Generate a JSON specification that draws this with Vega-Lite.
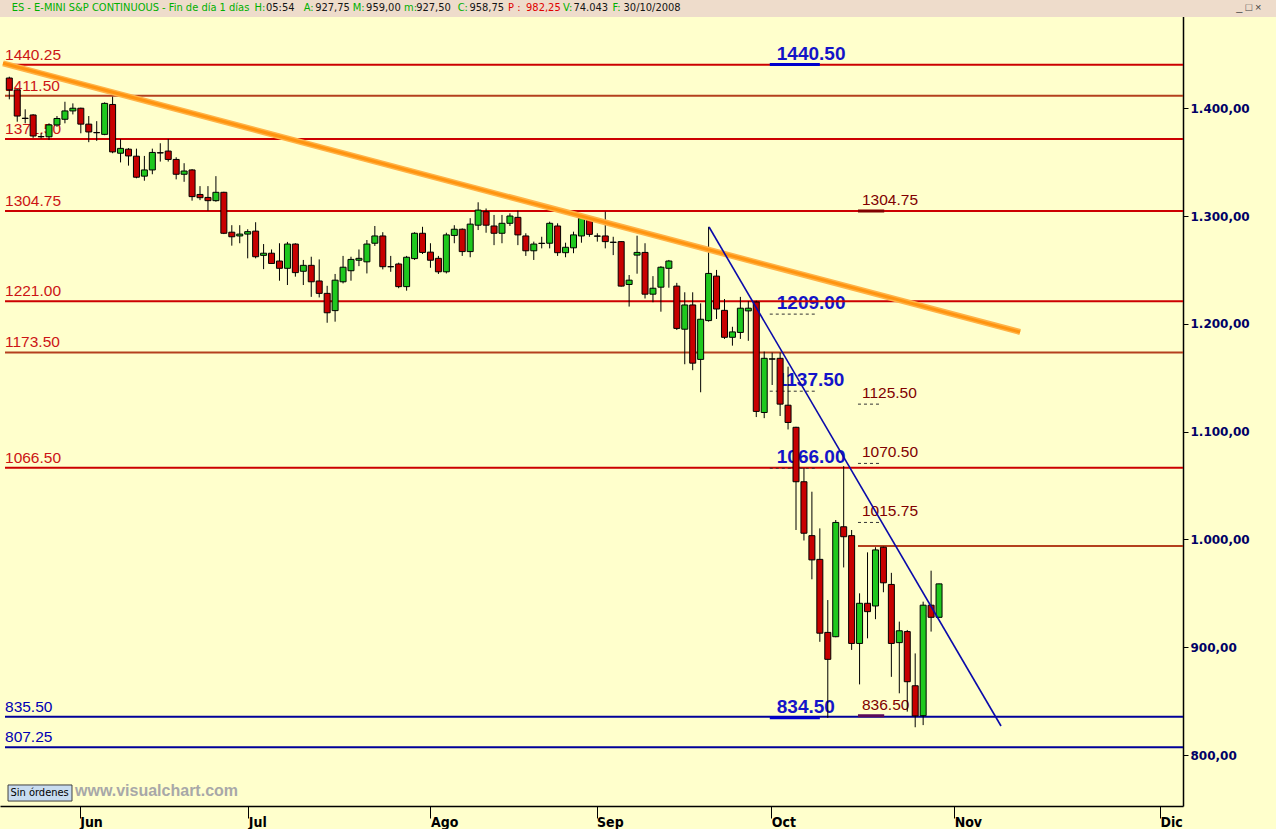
{
"$schema": "https://vega.github.io/schema/vega-lite/v6.json",
"width": 1183, "height": 806,
"autosize": {"type": "none"},
"padding": {"left": 0, "top": 0, "right": 93, "bottom": 23},
"background": "#FFFFCC",
"config": {"view": {"stroke": null, "fill": "#FFFFCC"}, "font": "Liberation Sans"},
"resolve": {"axis": {"x": "independent", "y": "independent"}},
"datasets": {
"candles": [
{"i":0,"o":1428,"h":1429.25,"l":1408.25,"c":1417},
{"i":1,"o":1417,"h":1417.5,"l":1387.5,"c":1392.75},
{"i":2,"o":1390.75,"h":1399,"l":1386,"c":1390.5},
{"i":3,"o":1393.75,"h":1394.5,"l":1372.5,"c":1374.25},
{"i":4,"o":1373.5,"h":1376.75,"l":1372,"c":1373.75},
{"i":5,"o":1373.5,"h":1386,"l":1370.5,"c":1384.5},
{"i":6,"o":1384.5,"h":1392.75,"l":1382.75,"c":1390.5},
{"i":7,"o":1389.75,"h":1406,"l":1386,"c":1397.5},
{"i":8,"o":1397.5,"h":1404.5,"l":1394.25,"c":1400},
{"i":9,"o":1400,"h":1400.5,"l":1376.75,"c":1385.25},
{"i":10,"o":1385.25,"h":1392.75,"l":1368.5,"c":1378},
{"i":11,"o":1377.25,"h":1388,"l":1369.75,"c":1377.5},
{"i":12,"o":1375.75,"h":1405.5,"l":1375,"c":1404.5},
{"i":13,"o":1403.5,"h":1410.75,"l":1358.25,"c":1359.5},
{"i":14,"o":1358.25,"h":1371.25,"l":1349.75,"c":1362.75},
{"i":15,"o":1362,"h":1363,"l":1346.75,"c":1355.75},
{"i":16,"o":1355.5,"h":1362.5,"l":1335,"c":1336},
{"i":17,"o":1337,"h":1355.75,"l":1332.75,"c":1342.75},
{"i":18,"o":1342.75,"h":1362.5,"l":1338.75,"c":1359},
{"i":19,"o":1358.75,"h":1367.5,"l":1350.5,"c":1358.5},
{"i":20,"o":1360.25,"h":1371.5,"l":1350.5,"c":1352.5},
{"i":21,"o":1352.5,"h":1354.5,"l":1334,"c":1338.75},
{"i":22,"o":1338.75,"h":1349,"l":1331.75,"c":1341.75},
{"i":23,"o":1342.75,"h":1343.5,"l":1314.25,"c":1318},
{"i":24,"o":1320,"h":1327.75,"l":1314.75,"c":1317},
{"i":25,"o":1317.25,"h":1327.75,"l":1305,"c":1314.25},
{"i":26,"o":1314.25,"h":1337,"l":1313.25,"c":1322},
{"i":27,"o":1322,"h":1322.5,"l":1283.25,"c":1284},
{"i":28,"o":1285,"h":1291.5,"l":1272.5,"c":1280.75},
{"i":29,"o":1281.5,"h":1291.5,"l":1274.75,"c":1283.25},
{"i":30,"o":1283.25,"h":1287.75,"l":1260.75,"c":1285.5},
{"i":31,"o":1286,"h":1294.25,"l":1260.75,"c":1262.25},
{"i":32,"o":1263.5,"h":1274,"l":1250.75,"c":1265.5},
{"i":33,"o":1265.5,"h":1269,"l":1255.5,"c":1256},
{"i":34,"o":1258.25,"h":1274.75,"l":1240,"c":1251.5},
{"i":35,"o":1251.5,"h":1276,"l":1236,"c":1274},
{"i":36,"o":1274,"h":1274.75,"l":1243.75,"c":1247.5},
{"i":37,"o":1248.75,"h":1259.25,"l":1236,"c":1254.25},
{"i":38,"o":1254.25,"h":1262.25,"l":1225,"c":1239},
{"i":39,"o":1239.75,"h":1259.75,"l":1224.5,"c":1228.25},
{"i":40,"o":1228.25,"h":1235.25,"l":1201,"c":1210.25},
{"i":41,"o":1212.25,"h":1246.25,"l":1202,"c":1240.5},
{"i":42,"o":1239,"h":1263,"l":1237.5,"c":1252.5},
{"i":43,"o":1249.25,"h":1262.25,"l":1240,"c":1259.75},
{"i":44,"o":1259,"h":1269,"l":1253.5,"c":1260.75},
{"i":45,"o":1257.5,"h":1277.75,"l":1246.75,"c":1274},
{"i":46,"o":1274.75,"h":1290.75,"l":1272.25,"c":1281.5},
{"i":47,"o":1281.5,"h":1285,"l":1250.5,"c":1253},
{"i":48,"o":1253,"h":1263,"l":1248.25,"c":1253},
{"i":49,"o":1255.5,"h":1256.75,"l":1233,"c":1234.5},
{"i":50,"o":1234.5,"h":1263,"l":1230.75,"c":1261.75},
{"i":51,"o":1260.5,"h":1285,"l":1259.25,"c":1284},
{"i":52,"o":1284,"h":1290,"l":1264.75,"c":1266.25},
{"i":53,"o":1266.5,"h":1274.75,"l":1252,"c":1259},
{"i":54,"o":1260.75,"h":1263,"l":1246.25,"c":1248.25},
{"i":55,"o":1248.25,"h":1284.5,"l":1246.75,"c":1282.5},
{"i":56,"o":1282,"h":1291.5,"l":1274.75,"c":1287.75},
{"i":57,"o":1287.75,"h":1288.5,"l":1263,"c":1267},
{"i":58,"o":1267,"h":1298,"l":1261.75,"c":1292.5},
{"i":59,"o":1291.5,"h":1312.75,"l":1287,"c":1305.5},
{"i":60,"o":1304,"h":1307,"l":1284.5,"c":1291.5},
{"i":61,"o":1290.75,"h":1301,"l":1273,"c":1284},
{"i":62,"o":1284,"h":1301,"l":1274.75,"c":1293.25},
{"i":63,"o":1293.25,"h":1302.5,"l":1290.75,"c":1300},
{"i":64,"o":1298.75,"h":1305,"l":1273,"c":1282.5},
{"i":65,"o":1281.5,"h":1284,"l":1263,"c":1267.75},
{"i":66,"o":1267.75,"h":1276.25,"l":1259.25,"c":1274},
{"i":67,"o":1274.75,"h":1280.75,"l":1270,"c":1274.5},
{"i":68,"o":1274.75,"h":1294.75,"l":1270,"c":1293.25},
{"i":69,"o":1290.75,"h":1293.25,"l":1263,"c":1266},
{"i":70,"o":1266,"h":1275.25,"l":1261.75,"c":1271},
{"i":71,"o":1270.5,"h":1285.5,"l":1265.5,"c":1282.5},
{"i":72,"o":1281.5,"h":1301,"l":1275.25,"c":1298},
{"i":73,"o":1297,"h":1299.25,"l":1280.75,"c":1283},
{"i":74,"o":1281.5,"h":1284,"l":1276.25,"c":1281.25},
{"i":75,"o":1281.5,"h":1304,"l":1270,"c":1276.25},
{"i":76,"o":1275.5,"h":1280.75,"l":1263.75,"c":1275.75},
{"i":77,"o":1276.25,"h":1276.75,"l":1234.5,"c":1235},
{"i":78,"o":1236.5,"h":1245.25,"l":1216,"c":1240.5},
{"i":79,"o":1263.75,"h":1281.75,"l":1246.5,"c":1266.25},
{"i":80,"o":1266.25,"h":1274.75,"l":1223.5,"c":1227.5},
{"i":81,"o":1227.5,"h":1244.25,"l":1220,"c":1233},
{"i":82,"o":1234,"h":1253.5,"l":1211.25,"c":1252.5},
{"i":83,"o":1251.5,"h":1259.25,"l":1233.5,"c":1258.25},
{"i":84,"o":1235,"h":1238,"l":1194.25,"c":1195.75},
{"i":85,"o":1195,"h":1229.25,"l":1162.5,"c":1217.5},
{"i":86,"o":1217.5,"h":1229.25,"l":1157,"c":1163.5},
{"i":87,"o":1167,"h":1219,"l":1136.5,"c":1204.25},
{"i":88,"o":1203,"h":1290,"l":1202,"c":1246.75},
{"i":89,"o":1244.25,"h":1250,"l":1204.5,"c":1213.75},
{"i":90,"o":1212.5,"h":1223,"l":1186,"c":1187.5},
{"i":91,"o":1187.5,"h":1197.25,"l":1179.75,"c":1192.5},
{"i":92,"o":1192,"h":1225,"l":1186,"c":1214.5},
{"i":93,"o":1212,"h":1221,"l":1184.25,"c":1214.5},
{"i":94,"o":1220.25,"h":1221.5,"l":1113.5,"c":1118.75},
{"i":95,"o":1117.75,"h":1174.25,"l":1112.5,"c":1168},
{"i":96,"o":1167.25,"h":1173.25,"l":1143.25,"c":1167.5},
{"i":97,"o":1168,"h":1173.25,"l":1114.5,"c":1125.5},
{"i":98,"o":1124.5,"h":1160.25,"l":1102,"c":1108.5},
{"i":99,"o":1104,"h":1104.5,"l":1008.75,"c":1053.5},
{"i":100,"o":1053.5,"h":1066.25,"l":999,"c":1005.75},
{"i":101,"o":1003.5,"h":1044.25,"l":963,"c":981},
{"i":102,"o":981.5,"h":1010.25,"l":905,"c":913},
{"i":103,"o":913.75,"h":943.75,"l":834.5,"c":888.75},
{"i":104,"o":909.75,"h":1018,"l":909.25,"c":1015.75},
{"i":105,"o":1011.75,"h":1068,"l":974,"c":1002.5},
{"i":106,"o":1003.5,"h":1008.75,"l":897.5,"c":903.5},
{"i":107,"o":903.5,"h":950,"l":865.5,"c":940.75},
{"i":108,"o":940.75,"h":988,"l":908.25,"c":933},
{"i":109,"o":938.25,"h":992.75,"l":926,"c":990.25},
{"i":110,"o":992.75,"h":993.25,"l":951,"c":959.75},
{"i":111,"o":958.25,"h":969,"l":872.5,"c":903.5},
{"i":112,"o":904.25,"h":923.75,"l":857.25,"c":915.25},
{"i":113,"o":914.5,"h":916,"l":840.25,"c":868},
{"i":114,"o":864.25,"h":894.25,"l":825.75,"c":836.25},
{"i":115,"o":836.5,"h":942.25,"l":827.75,"c":939},
{"i":116,"o":939,"h":971,"l":914.5,"c":927.75},
{"i":117,"o":927.75,"h":959,"l":927.5,"c":958.75}
],
"levels": [
{"p":1440.25,"t":"r","lbl":"1440.25","desde":-0.54},
{"p":1411.5,"t":"b","lbl":"1411.50","desde":-0.54},
{"p":1371.5,"t":"r","lbl":"1371.50","desde":-0.54},
{"p":1304.75,"t":"r","lbl":"1304.75","desde":-0.54},
{"p":1221,"t":"r","lbl":"1221.00","desde":-0.54},
{"p":1173.5,"t":"b","lbl":"1173.50","desde":-0.54},
{"p":1066.5,"t":"r","lbl":"1066.50","desde":-0.54},
{"p":994,"t":"b","lbl":"","desde":106.8},
{"p":835.5,"t":"s","lbl":"835.50","desde":-0.54},
{"p":807.25,"t":"s","lbl":"807.25","desde":-0.54}
],
"notes": [
{"p":1440.5,"lbl":"1440.50","g":"A","k":"azul","a":95.7,"b":102.0},
{"p":1209,"lbl":"1209.00","g":"A","k":"punteado","a":95.7,"b":101.4},
{"p":1137.5,"lbl":"1137.50","g":"A","k":"punteado","a":95.7,"b":101.4},
{"p":1066,"lbl":"1066.00","g":"A","k":"punteado","a":95.7,"b":101.4},
{"p":834.5,"lbl":"834.50","g":"A","k":"azul","a":95.7,"b":102.0},
{"p":1304.75,"lbl":"1304.75","g":"M","k":"granate","a":106.8,"b":110.1},
{"p":1125.5,"lbl":"1125.50","g":"M","k":"punteado","a":106.8,"b":109.6},
{"p":1070.5,"lbl":"1070.50","g":"M","k":"punteado","a":106.8,"b":109.6},
{"p":1015.75,"lbl":"1015.75","g":"M","k":"punteado","a":106.8,"b":109.6},
{"p":836.5,"lbl":"836.50","g":"M","k":"morado","a":106.8,"b":110.1}
],
"trends": [
{"n":"naranja","xa":-0.79,"ya":1441.7,"xb":127.2,"yb":1192.4},
{"n":"azul","xa":88.06,"ya":1289.8,"xb":124.8,"yb":826.9}
],
"header": [
{"k":"ES - E-MINI S&P CONTINUOUS - Fin de día 1 días","ki":0.3,"v":"","vi":0},
{"k":"H:","ki":30.86,"v":"05:54","vi":32.3},
{"k":"A:","ki":37.04,"v":"927,75","vi":38.5},
{"k":"M:","ki":43.22,"v":"959,00","vi":44.9},
{"k":"m:","ki":49.67,"v":"927,50","vi":51.2},
{"k":"C:","ki":56.42,"v":"958,75","vi":57.9},
{"k":"P :","ki":62.76,"v":"982,25","vi":65.03},
{"k":"V:","ki":69.68,"v":"74.043","vi":71.0},
{"k":"F:","ki":75.91,"v":"30/10/2008","vi":77.3}
]
},
"layer": [
{
"data": {"values": [{}]},
"mark": {"type": "rect", "color": "#EEDCCB"},
"encoding": {
"x": {"datum": -2, "type": "quantitative", "axis": null},
"x2": {"datum": 165},
"y": {"datum": 1484.6, "type": "quantitative", "axis": null},
"y2": {"datum": 1512}
}
},
{
"data": {"name": "header"},
"mark": {"type": "text", "align": "left", "baseline": "middle", "font": "Liberation Sans Narrow, DejaVu Sans Condensed, Liberation Sans", "fontSize": 11},
"encoding": {
"x": {"field": "ki", "type": "quantitative", "axis": null},
"y": {"datum": 1493, "type": "quantitative", "axis": null},
"text": {"field": "k"},
"color": {"condition": {"test": "datum.k == 'P :'", "value": "#E00000"}, "value": "#00B000"}
}
},
{
"data": {"name": "header"},
"mark": {"type": "text", "align": "left", "baseline": "middle", "font": "Liberation Sans Narrow, DejaVu Sans Condensed, Liberation Sans", "fontSize": 11},
"encoding": {
"x": {"field": "vi", "type": "quantitative", "axis": null},
"y": {"datum": 1493, "type": "quantitative", "axis": null},
"text": {"field": "v"},
"color": {"condition": {"test": "datum.k == 'P :'", "value": "#E00000"}, "value": "#151515"}
}
},
{
"data": {"values": [{"s": "_ □ ×"}]},
"mark": {"type": "text", "align": "left", "baseline": "middle", "fontSize": 11, "color": "#444444"},
"encoding": {
"x": {"datum": 154.4, "type": "quantitative", "axis": null},
"y": {"datum": 1493, "type": "quantitative", "axis": null},
"text": {"field": "s"}
}
},
{
"data": {"name": "levels"},
"transform": [{"filter": "datum.lbl != ''"}],
"mark": {"type": "text", "align": "left", "baseline": "alphabetic", "dy": -5, "fontSize": 15.5},
"encoding": {
"x": {"datum": -0.54, "type": "quantitative", "axis": null},
"y": {"field": "p", "type": "quantitative", "axis": null},
"text": {"field": "lbl"},
"color": {"condition": {"test": "datum.t == 's'", "value": "#0000B4"}, "value": "#CC1414"}
}
},
{
"data": {"name": "notes"},
"transform": [{"filter": "datum.g == 'A'"}],
"mark": {"type": "text", "align": "left", "baseline": "alphabetic", "dx": 7, "dy": -5, "fontSize": 19, "fontWeight": "bold", "color": "#1414C8"},
"encoding": {
"x": {"field": "a", "type": "quantitative", "axis": null},
"y": {"field": "p", "type": "quantitative", "axis": null},
"text": {"field": "lbl"}
}
},
{
"data": {"name": "notes"},
"transform": [{"filter": "datum.g == 'M'"}],
"mark": {"type": "text", "align": "left", "baseline": "alphabetic", "dx": 4, "dy": -6, "fontSize": 15.5, "color": "#800000"},
"encoding": {
"x": {"field": "a", "type": "quantitative", "axis": null},
"y": {"field": "p", "type": "quantitative", "axis": null},
"text": {"field": "lbl"}
}
},
{
"data": {"name": "levels"},
"mark": {"type": "rule", "strokeWidth": 2},
"encoding": {
"x": {"field": "desde", "type": "quantitative", "axis": null},
"x2": {"datum": 147.7},
"y": {"field": "p", "type": "quantitative", "axis": null},
"color": {"condition": [{"test": "datum.t == 's'", "value": "#00009A"}, {"test": "datum.t == 'b'", "value": "#B4401E"}], "value": "#CC0000"}
}
},
{
"data": {"name": "notes"},
"mark": {"type": "rule"},
"encoding": {
"x": {"field": "a", "type": "quantitative", "axis": null},
"x2": {"field": "b"},
"y": {"field": "p", "type": "quantitative", "axis": null},
"color": {"condition": [{"test": "datum.k == 'azul'", "value": "#0000CC"}, {"test": "datum.k == 'granate'", "value": "#800000"}, {"test": "datum.k == 'morado'", "value": "#5A0A5A"}], "value": "#333333"},
"strokeWidth": {"condition": {"test": "datum.k == 'punteado'", "value": 1}, "value": 3},
"strokeDash": {"condition": {"test": "datum.k == 'punteado'", "value": [3, 3]}, "value": [1, 0]}
}
},
{
"data": {"name": "candles"},
"mark": {"type": "rule", "color": "#000000", "strokeWidth": 1},
"encoding": {
"x": {"field": "i", "type": "quantitative",
"scale": {"domain": [-1.17, 147.7], "nice": false, "zero": false, "padding": 0},
"axis": {"values": [8.86, 30.07, 53.0, 73.9, 95.9, 118.9, 144.8],
"labelExpr": "datum.value < 20 ? 'Jun' : datum.value < 40 ? 'Jul' : datum.value < 60 ? 'Ago' : datum.value < 85 ? 'Sep' : datum.value < 105 ? 'Oct' : datum.value < 130 ? 'Nov' : 'Dic'",
"title": null, "grid": false, "tickSize": 12, "tickColor": "#000000", "domainColor": "#000000", "domainWidth": 1.5,
"labelAlign": "left", "labelDx": 2, "labelPadding": -3, "labelBaseline": "top",
"labelFont": "Liberation Sans Narrow, DejaVu Sans Condensed, Liberation Sans", "labelFontSize": 14, "labelFontWeight": "bold", "labelColor": "#000000",
"labelFlush": false, "labelOverlap": false}},
"y": {"field": "l", "type": "quantitative",
"scale": {"domain": [752.7, 1500.4], "nice": false, "zero": false, "padding": 0},
"axis": {"orient": "right", "values": [800, 900, 1000, 1100, 1200, 1300, 1400],
"labelExpr": "replace(replace(replace(format(datum.value, ',.2f'), ',', '_'), '.', ','), '_', '.')",
"title": null, "grid": false, "tickSize": 5, "tickColor": "#000000", "domainColor": "#000000", "domainWidth": 1.5,
"labelFont": "DejaVu Sans", "labelFontSize": 12, "labelFontWeight": "bold", "labelColor": "#000066", "labelPadding": 2, "labelBaseline": "middle"}},
"y2": {"field": "h"}
}
},
{
"data": {"name": "candles"},
"mark": {"type": "bar", "size": 6, "stroke": "#000000", "strokeWidth": 1},
"encoding": {
"x": {"field": "i", "type": "quantitative", "axis": null},
"y": {"field": "o", "type": "quantitative", "axis": null},
"y2": {"field": "c"},
"fill": {"condition": {"test": "datum.c >= datum.o", "value": "#1EC81E"}, "value": "#C80000"}
}
},
{
"data": {"name": "trends"},
"transform": [{"filter": "datum.n == 'naranja'"}],
"mark": {"type": "rule", "strokeWidth": 6, "color": "#FFB347", "strokeCap": "butt"},
"encoding": {
"x": {"field": "xa", "type": "quantitative", "axis": null},
"y": {"field": "ya", "type": "quantitative", "axis": null},
"x2": {"field": "xb"},
"y2": {"field": "yb"}
}
},
{
"data": {"name": "trends"},
"transform": [{"filter": "datum.n == 'naranja'"}],
"mark": {"type": "rule", "strokeWidth": 3, "color": "#FF9410", "strokeCap": "butt"},
"encoding": {
"x": {"field": "xa", "type": "quantitative", "axis": null},
"y": {"field": "ya", "type": "quantitative", "axis": null},
"x2": {"field": "xb"},
"y2": {"field": "yb"}
}
},
{
"data": {"name": "trends"},
"transform": [{"filter": "datum.n == 'azul'"}],
"mark": {"type": "rule", "strokeWidth": 1.6, "color": "#0A0AAA"},
"encoding": {
"x": {"field": "xa", "type": "quantitative", "axis": null},
"y": {"field": "ya", "type": "quantitative", "axis": null},
"x2": {"field": "xb"},
"y2": {"field": "yb"}
}
},
{
"data": {"values": [{}]},
"mark": {"type": "rect", "fill": "#C8DCF0", "stroke": "#404040", "strokeWidth": 1},
"encoding": {
"x": {"datum": -0.16, "type": "quantitative", "axis": null},
"x2": {"datum": 7.89},
"y": {"datum": 757.3, "type": "quantitative", "axis": null},
"y2": {"datum": 772.2}
}
},
{
"data": {"values": [{"s": "Sin órdenes"}]},
"mark": {"type": "text", "align": "left", "baseline": "middle", "fontSize": 11, "color": "#000000", "font": "Liberation Sans Narrow, DejaVu Sans Condensed, Liberation Sans"},
"encoding": {
"x": {"datum": 0.15, "type": "quantitative", "axis": null},
"y": {"datum": 764.7, "type": "quantitative", "axis": null},
"text": {"field": "s"}
}
},
{
"data": {"values": [{"s": "www.visualchart.com"}]},
"mark": {"type": "text", "align": "left", "baseline": "middle", "fontSize": 16, "fontWeight": "bold", "color": "#A8A8A8"},
"encoding": {
"x": {"datum": 8.27, "type": "quantitative", "axis": null},
"y": {"datum": 766.4, "type": "quantitative", "axis": null},
"text": {"field": "s"}
}
}
]
}
